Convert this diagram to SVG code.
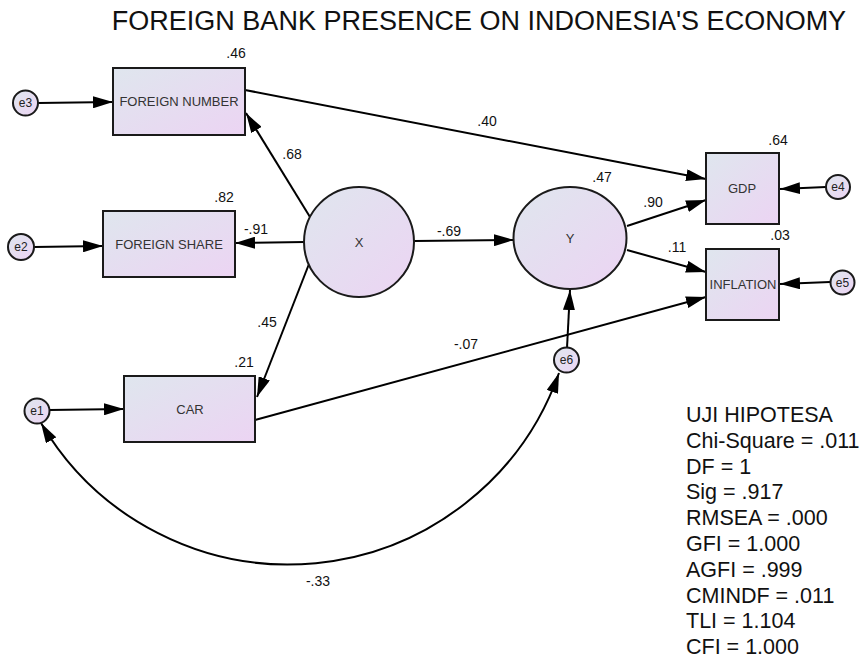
<svg xmlns="http://www.w3.org/2000/svg" width="863" height="658" viewBox="0 0 863 658">
<style>
text{font-family:"Liberation Sans",Arial,sans-serif;fill:#111}
.node{fill:url(#g);stroke:#1a1a1a;stroke-width:2}
.nt{font-size:13px;fill:#333;text-anchor:middle}
.et{font-size:12px;fill:#222;text-anchor:middle}
.lbl{font-size:14px;text-anchor:middle}
.st{font-size:21.5px}
.c path{fill:none;stroke:#000;stroke-width:2;marker-end:url(#ah)}
</style>
<defs>
<linearGradient id="g" x1="0" y1="0" x2="1" y2="1">
<stop offset="0" stop-color="#dfe6ee"/>
<stop offset="1" stop-color="#ecd4f3"/>
</linearGradient>
<marker id="ah" markerUnits="userSpaceOnUse" markerWidth="20" markerHeight="12" viewBox="0 0 20 12" refX="20" refY="6" orient="auto-start-reverse">
<path d="M0,0 L20,6 L0,12 z" fill="#000"/>
</marker>
</defs>
<text x="479" y="30" font-size="27" text-anchor="middle">FOREIGN BANK PRESENCE ON INDONESIA'S ECONOMY</text>

<g class="c" id="connectors">
<path d="M38,103 L113,102"/>
<path d="M310,217 L246,113"/>
<path d="M245,90 L706,179"/>
<path d="M34,247 L103,246"/>
<path d="M305,242 L235,243"/>
<path d="M414,241 L514,240"/>
<path d="M309,264 L257,397"/>
<path d="M627,226 L706,200"/>
<path d="M627,250 L706,272"/>
<path d="M255,420 L706,297"/>
<path d="M567,348 L570,290"/>
<path d="M826,187 L780,189"/>
<path d="M830,282 L780,284"/>
<path d="M49,410 L124,409"/>
<path d="M41,423 A287,287 0 0 0 559,373" style="marker-start:url(#ah)"/>
</g>

<g id="fn"><rect class="node" x="113" y="68" width="132" height="67"/><text class="nt" x="179" y="106">FOREIGN NUMBER</text></g>
<g id="fs"><rect class="node" x="103" y="211" width="132" height="66"/><text class="nt" x="169" y="249">FOREIGN SHARE</text></g>
<g id="car"><rect class="node" x="124" y="376" width="131" height="66"/><text class="nt" x="190" y="414">CAR</text></g>
<g id="gdp"><rect class="node" x="706" y="153" width="73" height="71"/><text class="nt" x="742" y="193">GDP</text></g>
<g id="infl"><rect class="node" x="706" y="249" width="73" height="71"/><text class="nt" x="743" y="289">INFLATION</text></g>
<g id="x"><circle class="node" cx="359" cy="242" r="55"/><text class="nt" x="359" y="247">X</text></g>
<g id="y"><ellipse class="node" cx="570" cy="238" rx="56.5" ry="51"/><text class="nt" x="570" y="243">Y</text></g>
<g id="e1"><circle class="node" cx="37" cy="411" r="12.5"/><text class="et" x="37" y="415">e1</text></g>
<g id="e2"><circle class="node" cx="21" cy="247" r="13"/><text class="et" x="21" y="251">e2</text></g>
<g id="e3"><circle class="node" cx="25.5" cy="103" r="12.5"/><text class="et" x="25.5" y="107">e3</text></g>
<g id="e4"><circle class="node" cx="838" cy="187" r="12"/><text class="et" x="838" y="191">e4</text></g>
<g id="e5"><circle class="node" cx="842.5" cy="282.5" r="12"/><text class="et" x="842.5" y="286.5">e5</text></g>
<g id="e6"><circle class="node" cx="566.5" cy="360" r="12.5"/><text class="et" x="566.5" y="364">e6</text></g>

<g id="labels">
<text class="lbl" x="236" y="58">.46</text>
<text class="lbl" x="292" y="159">.68</text>
<text class="lbl" x="487" y="126">.40</text>
<text class="lbl" x="224" y="202">.82</text>
<text class="lbl" x="256" y="234">-.91</text>
<text class="lbl" x="449" y="236">-.69</text>
<text class="lbl" x="602" y="182">.47</text>
<text class="lbl" x="778" y="145">.64</text>
<text class="lbl" x="653" y="207">.90</text>
<text class="lbl" x="677" y="252">.11</text>
<text class="lbl" x="780" y="240">.03</text>
<text class="lbl" x="267" y="327">.45</text>
<text class="lbl" x="244" y="367">.21</text>
<text class="lbl" x="466" y="349">-.07</text>
<text class="lbl" x="318" y="586">-.33</text>
</g>

<g id="stats">
<text class="st" x="686" y="422">UJI HIPOTESA</text>
<text class="st" x="686" y="447.8">Chi-Square = .011</text>
<text class="st" x="686" y="473.6">DF = 1</text>
<text class="st" x="686" y="499.4">Sig = .917</text>
<text class="st" x="686" y="525.2">RMSEA = .000</text>
<text class="st" x="686" y="551">GFI = 1.000</text>
<text class="st" x="686" y="576.8">AGFI = .999</text>
<text class="st" x="686" y="602.6">CMINDF = .011</text>
<text class="st" x="686" y="628.4">TLI = 1.104</text>
<text class="st" x="686" y="654.2">CFI = 1.000</text>
</g>
</svg>
